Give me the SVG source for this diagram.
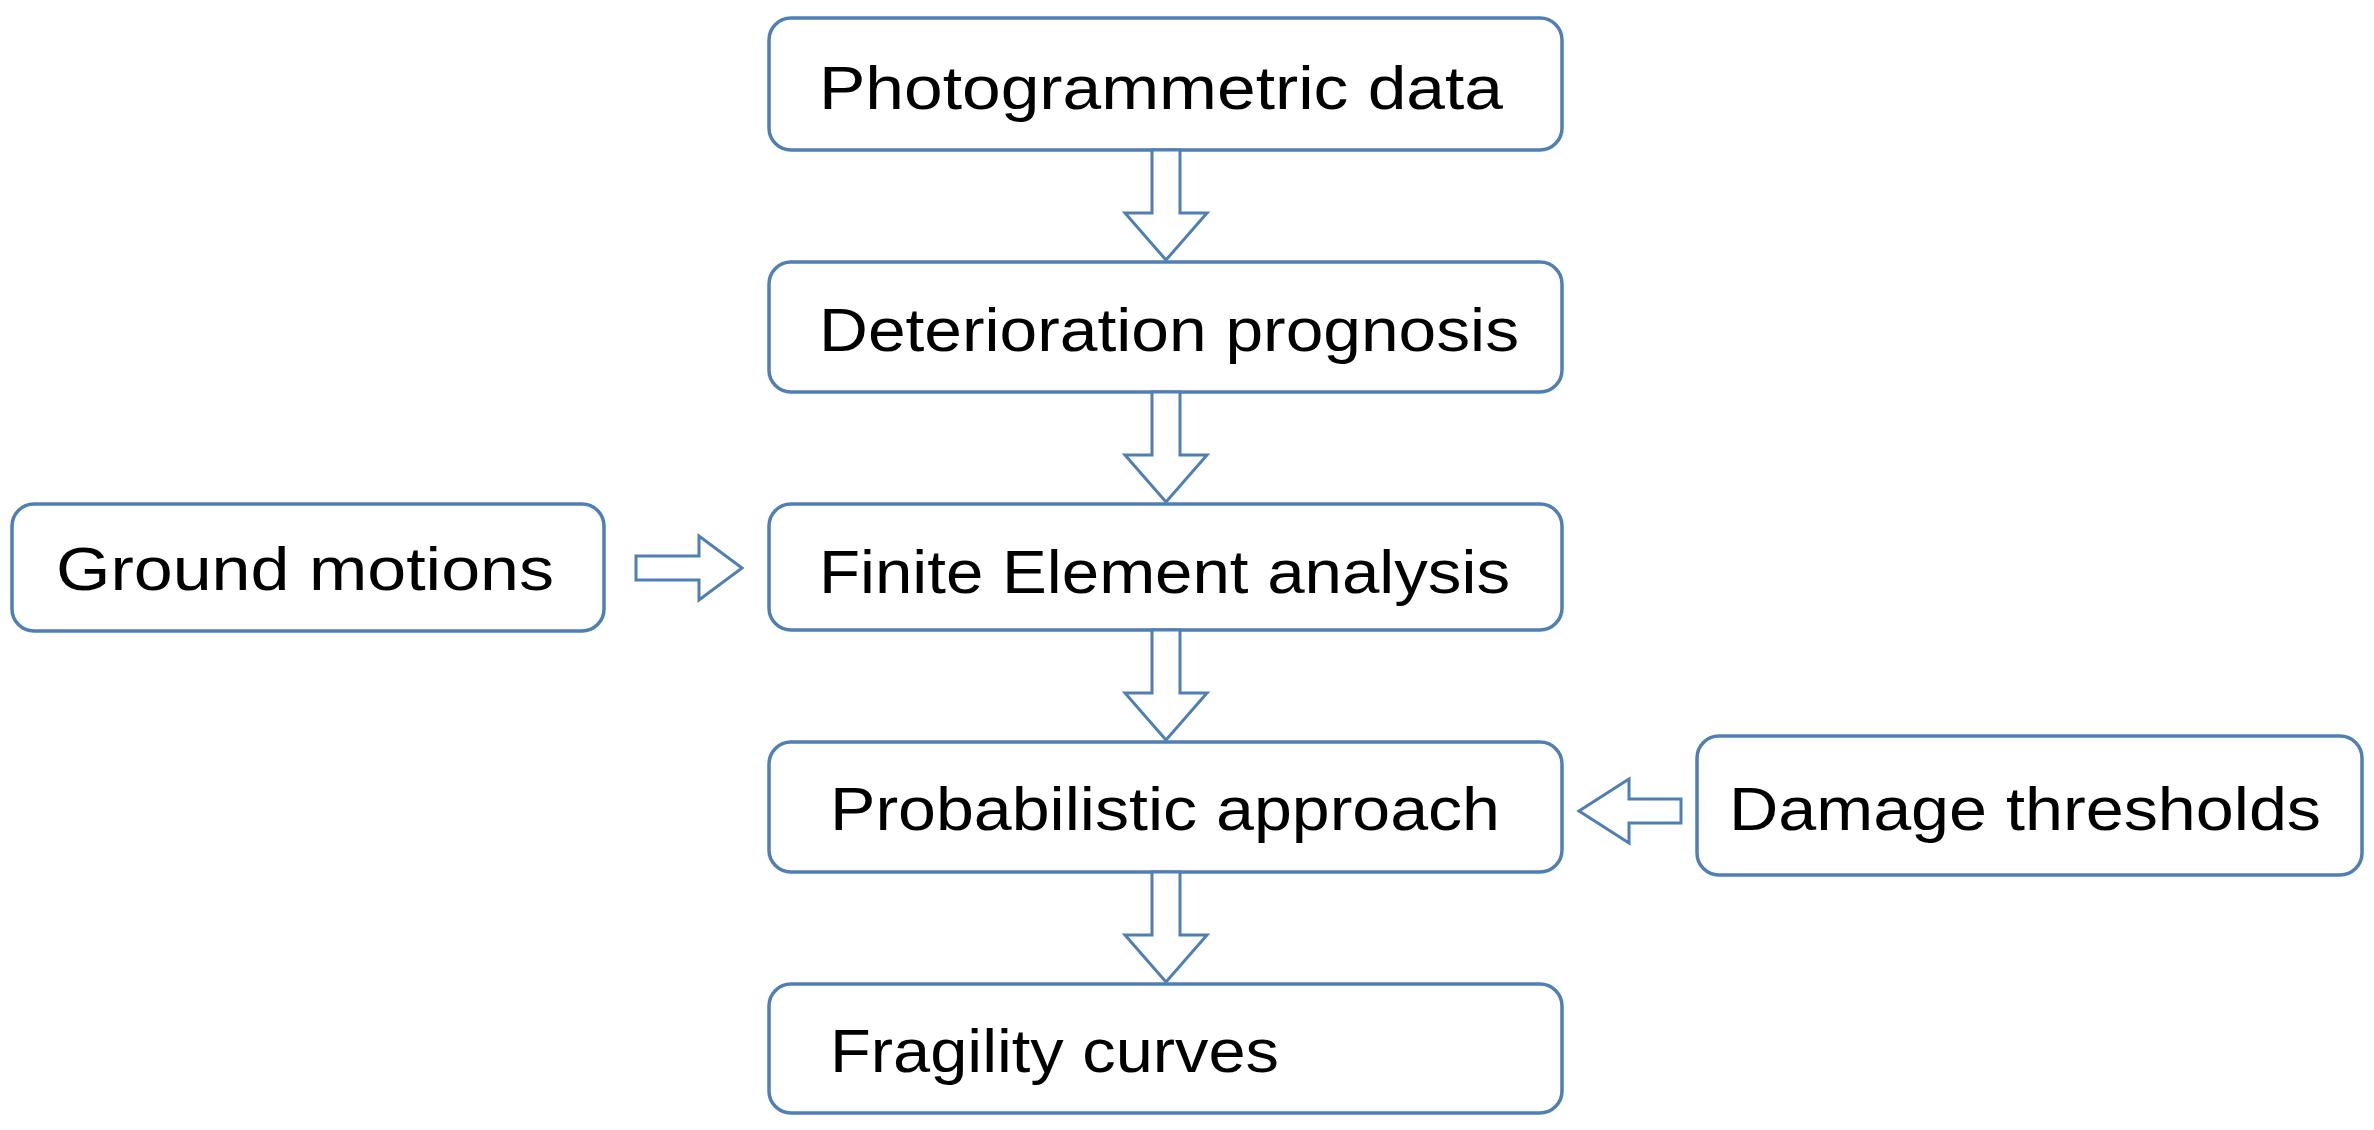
<svg xmlns="http://www.w3.org/2000/svg" width="2374" height="1130" viewBox="0 0 2374 1130">
<style>
.box{fill:#fff;stroke:#4f7fb5;stroke-width:3.5}
.arr{fill:#fff;stroke:#4f7fb5;stroke-width:3}
text{font-family:"Liberation Sans",Arial,sans-serif;font-size:62px;fill:#000}
</style>
<rect width="2374" height="1130" fill="#fff"/>
<g id="n1"><rect class="box" x="769" y="18" width="793" height="132" rx="22"/><text x="819" y="109" textLength="684" lengthAdjust="spacingAndGlyphs">Photogrammetric data</text></g>
<g id="n2"><rect class="box" x="769" y="262" width="793" height="130" rx="22"/><text x="819" y="351" textLength="700" lengthAdjust="spacingAndGlyphs">Deterioration prognosis</text></g>
<g id="n3"><rect class="box" x="769" y="504" width="793" height="126" rx="22"/><text x="819" y="593" textLength="691" lengthAdjust="spacingAndGlyphs">Finite Element analysis</text></g>
<g id="n4"><rect class="box" x="12" y="504" width="592" height="127" rx="22"/><text x="56" y="590" textLength="498" lengthAdjust="spacingAndGlyphs">Ground motions</text></g>
<g id="n5"><rect class="box" x="769" y="742" width="793" height="130" rx="22"/><text x="830" y="830" textLength="670" lengthAdjust="spacingAndGlyphs">Probabilistic approach</text></g>
<g id="n6"><rect class="box" x="1697" y="736" width="665" height="139" rx="22"/><text x="1729" y="830" textLength="592" lengthAdjust="spacingAndGlyphs">Damage thresholds</text></g>
<g id="n7"><rect class="box" x="769" y="984" width="793" height="129" rx="22"/><text x="830" y="1072" textLength="449" lengthAdjust="spacingAndGlyphs">Fragility curves</text></g>
<g id="connectors">
<polygon class="arr" points="1152,150 1180,150 1180,213 1207,213 1166,260 1125,213 1152,213"/>
<polygon class="arr" points="1152,392 1180,392 1180,455 1207,455 1166,502 1125,455 1152,455"/>
<polygon class="arr" points="1152,630 1180,630 1180,693 1207,693 1166,740 1125,693 1152,693"/>
<polygon class="arr" points="1152,872 1180,872 1180,935 1207,935 1166,982 1125,935 1152,935"/>
<polygon class="arr" points="636,556 699,556 699,536 742,568 699,600 699,580 636,580"/>
<polygon class="arr" points="1681,799 1629,799 1629,779 1579,811 1629,843 1629,823 1681,823"/>
</g>
</svg>
